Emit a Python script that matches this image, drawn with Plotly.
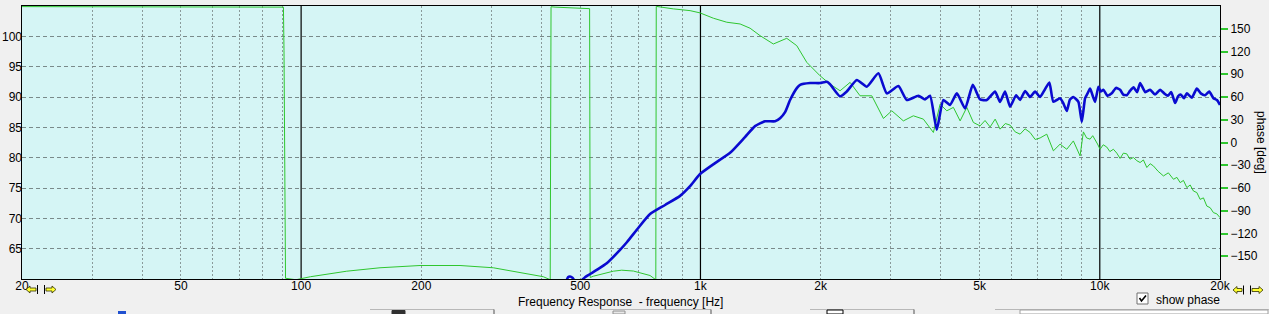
import plotly.graph_objects as go

# ---------------- data ----------------
mag_freq_hz = [460.7, 466, 471.6, 478, 486, 500, 514, 550, 582.6, 629, 655, 692.6, 747.8, 815.5,
               889.2, 941.9, 997.7, 1087.9, 1186.5, 1293, 1370, 1451.5, 1537.5, 1582.6, 1629,
               1676.5, 1745, 1776.3, 1881.7, 1993.4, 2071.7, 2111, 2237, 2325, 2464, 2610, 2790,
               2929, 3131, 3286, 3513, 3651, 3758, 3906, 4058, 4218, 4385, 4600, 4808, 5015, 5212,
               5467, 5627, 5791, 5962, 6172, 6316, 6501, 6691, 6886, 7088, 7280, 7477, 7652, 7954,
               8100, 8267, 8420, 8587, 8839, 9014, 9188, 9320, 9456, 9600, 9732, 9920, 10050, 10210,
               10450, 10715, 10980, 11241, 11450, 11685, 11900, 12150, 12400, 12617, 13000, 13366,
               13750, 14160, 14500, 14800, 15100, 15441, 15700, 15950, 16250, 16518, 17000,
               17498, 17900, 18357, 18800, 19258, 19650, 20000]
mag_db = [59.5, 60.3, 60.4, 60.2, 59.6, 59.6, 60.3, 61.5, 62.6, 64.8, 66.1, 68.1, 70.7, 72.2,
          73.7, 75.3, 77.3, 79.1, 80.8, 83.4, 85.2, 86.0, 86.0, 86.5, 87.5,
          89.5, 91.5, 92.0, 92.3, 92.3, 92.5, 92.1, 90.1, 90.9, 92.8, 91.7, 93.9,
          90.6, 91.8, 89.5, 90.2, 89.6, 90.2, 84.6, 89.5, 88.7, 90.6, 88.1, 92.0, 89.6, 89.5,
          90.9, 89.2, 90.9, 88.4, 90.3, 89.5, 91.0, 90.0, 90.9, 90.0, 91.2, 92.4, 89.2, 89.8,
          89.0, 87.7, 89.6, 90.0, 89.2, 85.9, 89.8, 90.6, 91.4, 90.2, 89.2, 91.7, 90.9, 91.2,
          90.2, 90.6, 91.5, 91.2, 90.4, 90.3, 91.0, 91.6, 90.8, 92.3, 90.8, 91.2,
          90.4, 91.2, 90.6, 90.2, 90.8, 89.0, 90.1, 90.4, 89.8, 90.6, 89.9,
          91.4, 90.6, 90.3, 90.9, 89.8, 89.5, 88.7]

phase_freq_hz = [20, 40, 60, 80, 90.3, 90.6, 91.4, 97, 105.5, 130.1, 157.6, 198.5, 250.0, 302.9,
                 353.4, 404.2, 420.5, 422.5, 432.4, 499.3, 527.7, 529.5, 539.4, 605.1, 635.1, 679.2,
                 747.8, 773, 775, 855.2, 941.9, 997.7, 1077.3, 1163.7, 1256.9, 1331.4, 1410.4,
                 1522.6, 1644.7, 1742.4, 1846, 1993, 2111, 2237, 2370, 2510, 2686, 2872, 3014,
                 3222, 3413, 3616, 3831, 3982, 4139, 4299, 4469, 4645, 4825, 5015, 5160, 5313,
                 5470, 5627, 5800, 5962, 6140, 6316, 6500, 6691, 6890, 7088, 7366, 7652, 7954,
                 8267, 8587, 8925, 9097, 9270, 9456, 9600, 9732, 9870, 10017, 10200, 10411, 10600,
                 10815, 11030, 11241, 11460, 11685, 11900, 12137, 12380, 12617, 12860, 13115,
                 13370, 13624, 14000, 14434, 14850, 15291, 15600, 15894, 16200, 16518, 16840,
                 17160, 17500, 17835, 18180, 18535, 18900, 19258, 19630, 20000]
phase_deg = [179.2, 179.3, 179.2, 179.0, 178.5, 121, -179, -181, -177, -169.7, -165.2, -162.2,
             -162.2, -165.2, -171, -177, -181, 179, 178.5, 177, 176.5, -178, -176.3, -169.7,
             -168.4, -169.5, -175.4, -181, 179.5, 176.2, 173.9, 170.9, 163.9, 158.6, 156.3,
             150.7, 140.9, 129.9, 137.4, 127.7, 105.7, 88, 77, 68.2, 79.3, 61.6, 61.6, 31.7,
             41.8, 28.5, 35.2, 30.8, 13.2, 50.6, 41.8, 46.3, 28.5, 46.3, 26.4, 21.9, 29, 20.5,
             30.8, 17.6, 25, 22.9, 14, 11, 18, 13.2, 4, 6, 11, -11, -2.2,
             -8.9, 2.1, -17.7, 14, 6, 4.4, 9, 4.4, -2, -8.9, -3, -6, -12,
             -8.9, -14, -21, -14, -15, -22, -19.8, -24, -26.4, -23, -33,
             -28, -30.9, -38, -44.1, -40, -48.5, -46, -52.9, -50, -59.5, -56,
             -64, -66, -75, -73, -83.8, -86, -92.5, -94, -99]

x_tickvals = [20, 50, 100, 200, 500, 1000, 2000, 5000, 10000, 20000]
x_ticktext = ['20', '50', '100', '200', '500', '1k', '2k', '5k', '10k', '20k']
minor_grid_hz = [30, 40, 50, 60, 70, 80, 90, 200, 300, 400, 500, 600, 700, 800, 900,
                 2000, 3000, 4000, 5000, 6000, 7000, 8000, 9000]
decade_lines_hz = [100, 1000, 10000]
db_ticks = [65, 70, 75, 80, 85, 90, 95, 100]
deg_ticks = [-150, -120, -90, -60, -30, 0, 30, 60, 90, 120, 150]

# ---------------- geometry helpers (pixels -> paper) ----------------
W, H = 1269, 314
L, R, T, B = 22, 1220, 6, 279


def px(x):
    return (x - L) / (R - L)


def py(y):
    return (B - y) / (B - T)


def path(points, close=True):
    s = 'M ' + ' L '.join(f'{px(a):.5f},{py(b):.5f}' for a, b in points)
    return s + (' Z' if close else '')


FONT = 'Liberation Sans, Arial, sans-serif'
GREEN = '#2fc62f'
BLUE = '#0a0ad0'

fig = go.Figure()
# phase on base axis (drawn below), magnitude on overlay (drawn on top)
fig.add_trace(go.Scatter(x=phase_freq_hz, y=phase_deg, mode='lines', yaxis='y',
                         line=dict(color=GREEN, width=1),
                         hoverinfo='skip', showlegend=False))
fig.add_trace(go.Scatter(x=mag_freq_hz, y=mag_db, mode='lines', yaxis='y2',
                         line=dict(color=BLUE, width=2.6, shape='spline', smoothing=0.5),
                         hoverinfo='skip', showlegend=False))

shapes = []
for f in decade_lines_hz:
    shapes.append(dict(type='line', xref='x', yref='paper', x0=f, x1=f, y0=0, y1=1,
                       line=dict(color='black', width=1.2), layer='between'))


def arrow_left(x0, x1, yc):
    xm = x0 + 4
    return path([(x0, yc), (xm, yc - 3.5), (xm, yc - 1.5), (x1, yc - 1.5), (x1, yc + 1.5),
                 (xm, yc + 1.5), (xm, yc + 3.5)])


def arrow_right(x0, x1, yc):
    xm = x1 - 4
    return path([(x1, yc), (xm, yc - 3.5), (xm, yc - 1.5), (x0, yc - 1.5), (x0, yc + 1.5),
                 (xm, yc + 1.5), (xm, yc + 3.5)])


icon_style = dict(type='path', xref='paper', yref='paper', fillcolor='#ffff30',
                  line=dict(color='#303000', width=0.8), layer='above')
# bottom-left arrows
shapes.append(dict(path=arrow_left(26, 36, 289.5), **icon_style))
shapes.append(dict(type='line', xref='paper', yref='paper', x0=px(37.5), x1=px(37.5),
                   y0=py(285), y1=py(294), line=dict(color='black', width=1)))
shapes.append(dict(type='line', xref='paper', yref='paper', x0=px(44.5), x1=px(44.5),
                   y0=py(285), y1=py(294), line=dict(color='black', width=1)))
shapes.append(dict(path=arrow_right(46, 56, 289.5), **icon_style))
# bottom-right arrows
shapes.append(dict(path=arrow_left(1233, 1242, 290), **icon_style))
shapes.append(dict(type='line', xref='paper', yref='paper', x0=px(1243.5), x1=px(1243.5),
                   y0=py(285.5), y1=py(294.5), line=dict(color='black', width=1)))
shapes.append(dict(type='line', xref='paper', yref='paper', x0=px(1250.5), x1=px(1250.5),
                   y0=py(285.5), y1=py(294.5), line=dict(color='black', width=1)))
shapes.append(dict(path=arrow_right(1252, 1263, 290), **icon_style))

# checkbox
shapes.append(dict(type='rect', xref='paper', yref='paper', x0=px(1137), x1=px(1148),
                   y0=py(304), y1=py(293), fillcolor='white', line=dict(color='#707070', width=1)))
shapes.append(dict(type='path', xref='paper', yref='paper',
                   path=path([(1139.5, 298), (1141.5, 301), (1146, 295.5)], close=False),
                   line=dict(color='black', width=1.6)))

# partially visible controls along the bottom edge
shapes.append(dict(type='rect', xref='paper', yref='paper', x0=px(118), x1=px(126),
                   y0=py(314), y1=py(311), fillcolor='#2050d0', line=dict(width=0)))
for x0, x1 in [(370, 494), (600, 711), (810, 914), (995, 1269)]:
    shapes.append(dict(type='line', xref='paper', yref='paper', x0=px(x0), x1=px(x1),
                       y0=py(309.5), y1=py(309.5), line=dict(color='#b8b8b8', width=1)))
for xv in [494, 711, 914]:
    shapes.append(dict(type='line', xref='paper', yref='paper', x0=px(xv), x1=px(xv),
                       y0=py(309.5), y1=py(314), line=dict(color='#505050', width=1)))
shapes.append(dict(type='rect', xref='paper', yref='paper', x0=px(392), x1=px(405),
                   y0=py(314), y1=py(310.5), fillcolor='#303030', line=dict(color='#303030', width=1)))
shapes.append(dict(type='rect', xref='paper', yref='paper', x0=px(613), x1=px(625),
                   y0=py(314), y1=py(311), fillcolor='#e8e8e8', line=dict(color='#909090', width=1)))
shapes.append(dict(type='rect', xref='paper', yref='paper', x0=px(827), x1=px(843),
                   y0=py(314), y1=py(310), fillcolor='white', line=dict(color='black', width=1)))
shapes.append(dict(type='rect', xref='paper', yref='paper', x0=px(1020), x1=px(1268),
                   y0=py(314), y1=py(310), fillcolor='white', line=dict(color='#a0a0a0', width=1)))

annotations = [
    dict(text='Frequency Response  - frequency [Hz]', xref='paper', yref='paper',
         x=px(620), y=py(301.5), xanchor='center', yanchor='middle', showarrow=False,
         font=dict(family=FONT, size=12, color='black')),
    dict(text='phase [deg]', xref='paper', yref='paper', x=px(1261), y=py(142),
         xanchor='center', yanchor='middle', showarrow=False, textangle=90,
         font=dict(family=FONT, size=12, color='black')),
    dict(text='show phase', xref='paper', yref='paper', x=px(1154), y=py(299.5),
         xanchor='left', yanchor='middle', showarrow=False,
         font=dict(family=FONT, size=12, color='black')),
]

fig.update_layout(
    width=W, height=H,
    margin=dict(l=L, r=W - R, t=T, b=H - B, pad=0, autoexpand=False),
    paper_bgcolor='#f0f0f0',
    plot_bgcolor='#d5f5f5',
    showlegend=False,
    font=dict(family=FONT, size=12, color='black'),
    xaxis=dict(type='log', range=[1.30103, 4.30103], tickmode='array', automargin=False,
               tickvals=x_tickvals, ticktext=x_ticktext, showgrid=False, ticks='',
               ticklabelstandoff=-4,
               showline=True, mirror=True, linecolor='black', linewidth=1, zeroline=False,
               tickfont=dict(family=FONT, size=12, color='black'),
               minor=dict(tickmode='array', tickvals=minor_grid_hz, showgrid=True,
                          gridcolor='#8a9a9a', griddash='2px,2px', gridwidth=1, ticks='')),
    yaxis=dict(range=[-180, 180], side='right', tickmode='array', tickvals=deg_ticks,
               automargin=False,
               ticks='outside', ticklen=7, tickwidth=2, tickcolor=GREEN, showgrid=False,
               zeroline=False, showline=True, mirror=True, linecolor='black', linewidth=1,
               tickfont=dict(family=FONT, size=12, color='black')),
    yaxis2=dict(range=[60, 105], side='left', overlaying='y', tickmode='array',
                automargin=False, ticklabelstandoff=-1,
                tickvals=db_ticks, ticks='', showgrid=True, gridcolor='#7a8a8a',
                griddash='4px,3px', gridwidth=1, zeroline=False, showline=False,
                tickfont=dict(family=FONT, size=12, color='black')),
    shapes=shapes,
    annotations=annotations,
)

fig.write_html('out.html')
